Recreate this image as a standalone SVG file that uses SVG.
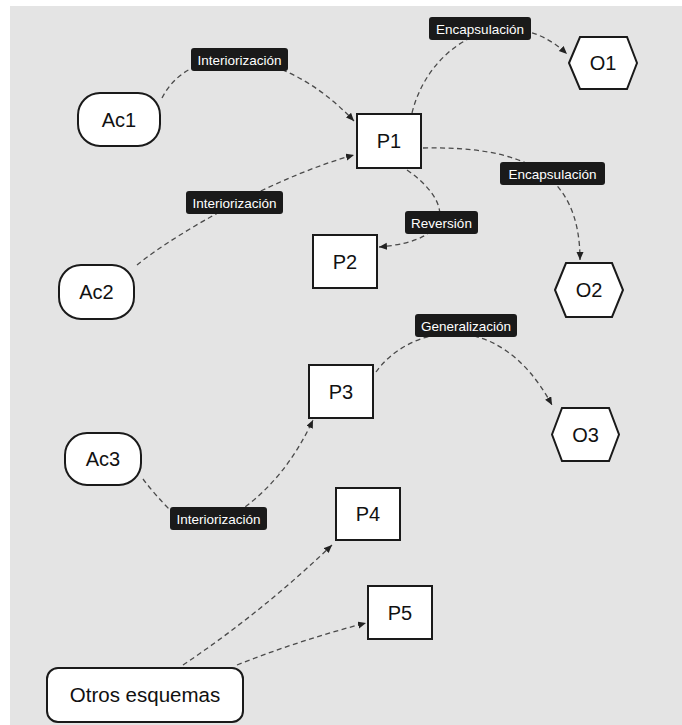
<svg xmlns="http://www.w3.org/2000/svg" width="682" height="725" viewBox="0 0 682 725">
<style>
.bg{fill:#e4e4e4}
.node{fill:#ffffff;stroke:#1a1a1a;stroke-width:2}
.nt{font-family:"Liberation Sans",Arial,sans-serif;font-size:20px;fill:#111;text-anchor:middle}
.conn{fill:none;stroke:#4a4a4a;stroke-width:1.3;stroke-dasharray:5 3.5}
.lbl{fill:#1a1a1a}
.lt{font-family:"Liberation Sans",Arial,sans-serif;font-size:13.5px;fill:#ffffff;text-anchor:middle}
</style>
<defs>
<marker id="arr" markerUnits="userSpaceOnUse" markerWidth="9" markerHeight="8" refX="8" refY="3.5" orient="auto">
<path d="M0,0 L8,3.5 L0,7 z" fill="#222"/>
</marker>
</defs>
<rect class="bg" x="10" y="6" width="672" height="719"/>
<g id="connectors">
<path class="conn" d="M162,98 C190,42.7 280,42.7 354,121" marker-end="url(#arr)"/>
<path class="conn" d="M137,265 C180,230 280,175 354,155" marker-end="url(#arr)"/>
<path class="conn" d="M412,113 C430,40 510,0 567,54" marker-end="url(#arr)"/>
<path class="conn" d="M423,148 C520,146 580,170 580,260" marker-end="url(#arr)"/>
<path class="conn" d="M407,170 C450,200 460,240 379,247" marker-end="url(#arr)"/>
<path class="conn" d="M376,372 C405,330 495,300 552,405" marker-end="url(#arr)"/>
<path class="conn" d="M143,479 Q155,495 172,512 L238,512 Q285,480 313,420" marker-end="url(#arr)"/>
<path class="conn" d="M183,665 Q262,612 332,545" marker-end="url(#arr)"/>
<path class="conn" d="M237,665 Q300,640 366,623" marker-end="url(#arr)"/>
</g>
<g id="labels">
<g id="lbl-int1"><rect class="lbl" x="191" y="48" width="97" height="23" rx="3"/><text class="lt" x="239.5" y="64.5">Interiorización</text></g>
<g id="lbl-int2"><rect class="lbl" x="186" y="191" width="97" height="23" rx="3"/><text class="lt" x="234.5" y="207.5">Interiorización</text></g>
<g id="lbl-enc1"><rect class="lbl" x="429" y="17" width="102" height="23" rx="3"/><text class="lt" x="480" y="33.5">Encapsulación</text></g>
<g id="lbl-enc2"><rect class="lbl" x="500" y="162" width="105" height="23" rx="3"/><text class="lt" x="552.5" y="178.5">Encapsulación</text></g>
<g id="lbl-rev"><rect class="lbl" x="405" y="211" width="73" height="23" rx="3"/><text class="lt" x="441.5" y="227.5">Reversión</text></g>
<g id="lbl-gen"><rect class="lbl" x="415" y="314" width="102" height="23" rx="3"/><text class="lt" x="466" y="330.5">Generalización</text></g>
<g id="lbl-int3"><rect class="lbl" x="170" y="507" width="97" height="23" rx="3"/><text class="lt" x="218.5" y="523.5">Interiorización</text></g>
</g>
<g id="Ac1"><rect class="node" x="78" y="93" width="82" height="53" rx="22"/><text class="nt" x="119" y="126.5">Ac1</text></g>
<g id="Ac2"><rect class="node" x="59" y="265" width="75" height="54" rx="22"/><text class="nt" x="96.5" y="299">Ac2</text></g>
<g id="Ac3"><rect class="node" x="65" y="433" width="76" height="52" rx="22"/><text class="nt" x="103" y="466">Ac3</text></g>
<g id="Otros"><rect class="node" x="47" y="668" width="196" height="54" rx="11"/><text class="nt" x="145" y="702" style="font-size:20.5px">Otros esquemas</text></g>
<g id="P1"><rect class="node" x="357" y="114" width="64" height="54"/><text class="nt" x="389" y="148">P1</text></g>
<g id="P2"><rect class="node" x="313" y="235" width="64" height="53"/><text class="nt" x="345" y="268.5">P2</text></g>
<g id="P3"><rect class="node" x="309" y="365" width="64" height="53"/><text class="nt" x="341" y="398.5">P3</text></g>
<g id="P4"><rect class="node" x="336" y="488" width="64" height="52"/><text class="nt" x="368" y="521">P4</text></g>
<g id="P5"><rect class="node" x="368" y="586" width="64" height="53"/><text class="nt" x="400" y="619.5">P5</text></g>
<g id="O1"><polygon class="node" points="569,63 580,37 627,37 637,63 627,89 580,89"/><text class="nt" x="603" y="70">O1</text></g>
<g id="O2"><polygon class="node" points="555,290 566,263 612,263 623,290 612,317 566,317"/><text class="nt" x="589" y="297">O2</text></g>
<g id="O3"><polygon class="node" points="552,434.5 562,408 609,408 619,434.5 609,461 562,461"/><text class="nt" x="585.5" y="441.5">O3</text></g>
</svg>
